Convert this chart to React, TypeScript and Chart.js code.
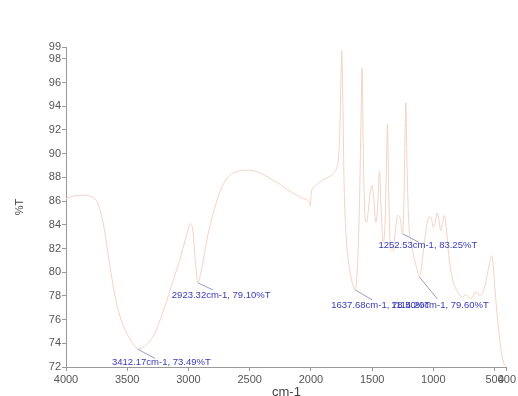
import React, { useEffect, useRef } from "react";
import { Chart, registerables } from "chart.js";

Chart.register(...registerables);

// Wavenumber (cm-1) and transmittance (%T)
const wavenumbers = [
  4000, 3950, 3880, 3800, 3750, 3720, 3690, 3660, 3630, 3600, 3560, 3520, 3480, 3440, 3412.17,
  3380, 3340, 3300, 3260, 3220, 3180, 3140, 3100, 3060, 3030, 3000, 2985, 2965, 2945, 2923.32,
  2900, 2870, 2840, 2800, 2750, 2700, 2650, 2600, 2550, 2500, 2450, 2400, 2350, 2300, 2250,
  2200, 2150, 2100, 2060, 2030, 2015, 2005, 1998, 1990, 1970, 1940, 1900, 1860, 1820, 1790,
  1775, 1765, 1755, 1748, 1740, 1730, 1715, 1700, 1680, 1660, 1637.68, 1620, 1605, 1592, 1582,
  1572, 1560, 1545, 1530, 1515, 1500, 1485, 1470, 1455, 1440, 1425, 1410, 1395, 1383, 1375,
  1365, 1350, 1330, 1310, 1290, 1270, 1252.53, 1240, 1232, 1225, 1215, 1200, 1180, 1160, 1140,
  1125, 1114.2, 1100, 1085, 1070, 1050, 1030, 1015, 1000, 985, 970, 955, 940, 925, 910,
  895, 880, 860, 840, 820, 800, 780, 760, 740, 720, 700, 680, 660, 640, 620,
  600, 580, 560, 540, 525, 515, 500, 480, 460, 440, 420, 400,
];
const transmittance = [
  86.2, 86.4, 86.5, 86.4, 86.0, 85.2, 83.8, 81.8, 79.8, 78.0, 76.3, 75.2, 74.4, 73.8, 73.49,
  73.6, 73.9, 74.4, 75.2, 76.3, 77.5, 78.8, 80.1, 81.4, 82.6, 83.7, 84.1, 83.6, 81.2, 79.1,
  79.9, 81.5, 83.2, 84.9, 86.6, 87.7, 88.3, 88.5, 88.6, 88.6, 88.5, 88.3, 88.0, 87.7, 87.4,
  87.0, 86.7, 86.4, 86.2, 86.1, 85.9, 85.6, 86.6, 87.0, 87.2, 87.5, 87.8, 88.0, 88.3, 88.8,
  89.6, 91.5, 96.0, 98.7, 95.0, 88.0, 83.5, 81.5, 80.0, 79.0, 78.5, 80.5, 85.0, 92.0, 97.2,
  90.0, 85.0, 84.2, 85.3, 86.8, 87.3, 86.0, 84.2, 85.5, 88.5, 85.0, 82.5, 84.0, 89.0, 92.5,
  87.0, 82.0, 81.8, 83.5, 84.8, 84.5, 83.25, 86.0, 91.0, 94.3, 89.0, 84.0, 82.5, 81.3, 80.5,
  79.9, 79.6, 80.2, 81.5, 82.8, 84.2, 84.7, 84.5, 83.8, 84.2, 85.0, 84.5, 83.5, 84.2, 84.8,
  83.8, 82.0, 80.3, 79.3, 78.7, 78.3, 78.0, 77.9, 78.1, 78.0, 77.8, 77.9, 78.3, 78.3, 78.0,
  78.2, 78.8, 79.8, 80.8, 81.4, 81.0, 79.0, 76.5, 74.5, 73.0, 72.2, 72.0,
];

const xTicks = [4000, 3500, 3000, 2500, 2000, 1500, 1000, 500, 400];
const yTicks = [72, 74, 76, 78, 80, 82, 84, 86, 88, 90, 92, 94, 96, 98, 99];

const peakWavenumbers = [3412.17, 2923.32, 1637.68, 1114.2, 1252.53];
const peakValues = [73.49, 79.1, 78.5, 79.6, 83.25];
const peakLabels = [
  "3412.17cm-1, 73.49%T",
  "2923.32cm-1, 79.10%T",
  "1637.68cm-1, 78.50%T",
  "1114.20cm-1, 79.60%T",
  "1252.53cm-1, 83.25%T",
];

// label placement offsets (px) relative to each marked point: [textDx, textDy, leaderDx, leaderDy]
const labelOffsets = [
  [-26, 13, 17, 9],
  [-26, 13, 15, 7],
  [-24, 15, 17, 10],
  [-28, 28, 18, 22],
  [-24, 12, 17, 9],
];

const FONT = '"Liberation Sans", Arial, sans-serif';

const peakLabelPlugin = {
  id: "peakLabels",
  afterDatasetsDraw(chart: any) {
    const { ctx, scales } = chart;
    const x = scales.x;
    const y = scales.y;
    ctx.save();
    ctx.font = `9.5px ${FONT}`;
    ctx.textBaseline = "middle";
    ctx.textAlign = "left";
    peakWavenumbers.forEach((wn, i) => {
      const px = x.getPixelForValue(wn);
      const py = y.getPixelForValue(peakValues[i]);
      const [tdx, tdy, ldx, ldy] = labelOffsets[i];
      ctx.strokeStyle = "#9a9ac8";
      ctx.lineWidth = 1;
      ctx.beginPath();
      ctx.moveTo(px, py);
      ctx.lineTo(px + ldx, py + ldy);
      ctx.stroke();
      ctx.fillStyle = "#3a3ab8";
      ctx.fillText(peakLabels[i], px + tdx, py + tdy);
    });
    ctx.restore();
  },
};

export default function App() {
  const canvasRef = useRef<HTMLCanvasElement | null>(null);

  useEffect(() => {
    if (!canvasRef.current) return;
    const points = wavenumbers.map((w, i) => ({ x: w, y: transmittance[i] }));
    const chart = new Chart(canvasRef.current, {
      type: "line",
      data: {
        datasets: [
          {
            data: points,
            borderColor: "#f2d3c4",
            borderWidth: 1,
            pointRadius: 0,
            fill: false,
            cubicInterpolationMode: "monotone",
          },
        ],
      },
      options: {
        animation: false,
        responsive: false,
        devicePixelRatio: 1,
        layout: { padding: { left: 0, right: 8, top: 47, bottom: 0 } },
        plugins: { legend: { display: false }, tooltip: { enabled: false } },
        scales: {
          x: {
            type: "linear",
            reverse: true,
            min: 400,
            max: 4000,
            afterBuildTicks: (scale: any) => {
              scale.ticks = xTicks.map((v) => ({ value: v }));
            },
            afterFit: (scale: any) => {
              scale.height = 29;
            },
            ticks: {
              autoSkip: false,
              maxRotation: 0,
              padding: 2,
              color: "#555",
              font: { family: FONT, size: 11 },
              callback: (v: any) => String(v),
            },
            grid: { display: true, drawOnChartArea: false, drawTicks: true, tickLength: 4, color: "#999" },
            border: { display: true, color: "#999" },
            title: {
              display: true,
              text: "cm-1",
              color: "#444",
              font: { family: FONT, size: 13 },
              padding: { top: 0, bottom: -4 },
            },
          },
          y: {
            type: "linear",
            min: 72,
            max: 99,
            afterBuildTicks: (scale: any) => {
              scale.ticks = yTicks.map((v) => ({ value: v }));
            },
            afterFit: (scale: any) => {
              scale.width = 66;
            },
            ticks: {
              autoSkip: false,
              padding: 1,
              color: "#555",
              font: { family: FONT, size: 11 },
              callback: (v: any) => String(v),
            },
            grid: { display: true, drawOnChartArea: false, drawTicks: true, tickLength: 4, color: "#999" },
            border: { display: true, color: "#999" },
            title: {
              display: true,
              text: "%T",
              color: "#444",
              font: { family: FONT, size: 11 },
              padding: { top: 13, bottom: 0 },
            },
          },
        },
      },
      plugins: [peakLabelPlugin],
    } as any);
    return () => chart.destroy();
  }, []);

  return (
    <div style={{ position: "absolute", left: 0, top: 0, width: 518, height: 396, background: "#fff" }}>
      <canvas ref={canvasRef} width={518} height={396} style={{ width: 518, height: 396, display: "block" }} />
    </div>
  );
}
